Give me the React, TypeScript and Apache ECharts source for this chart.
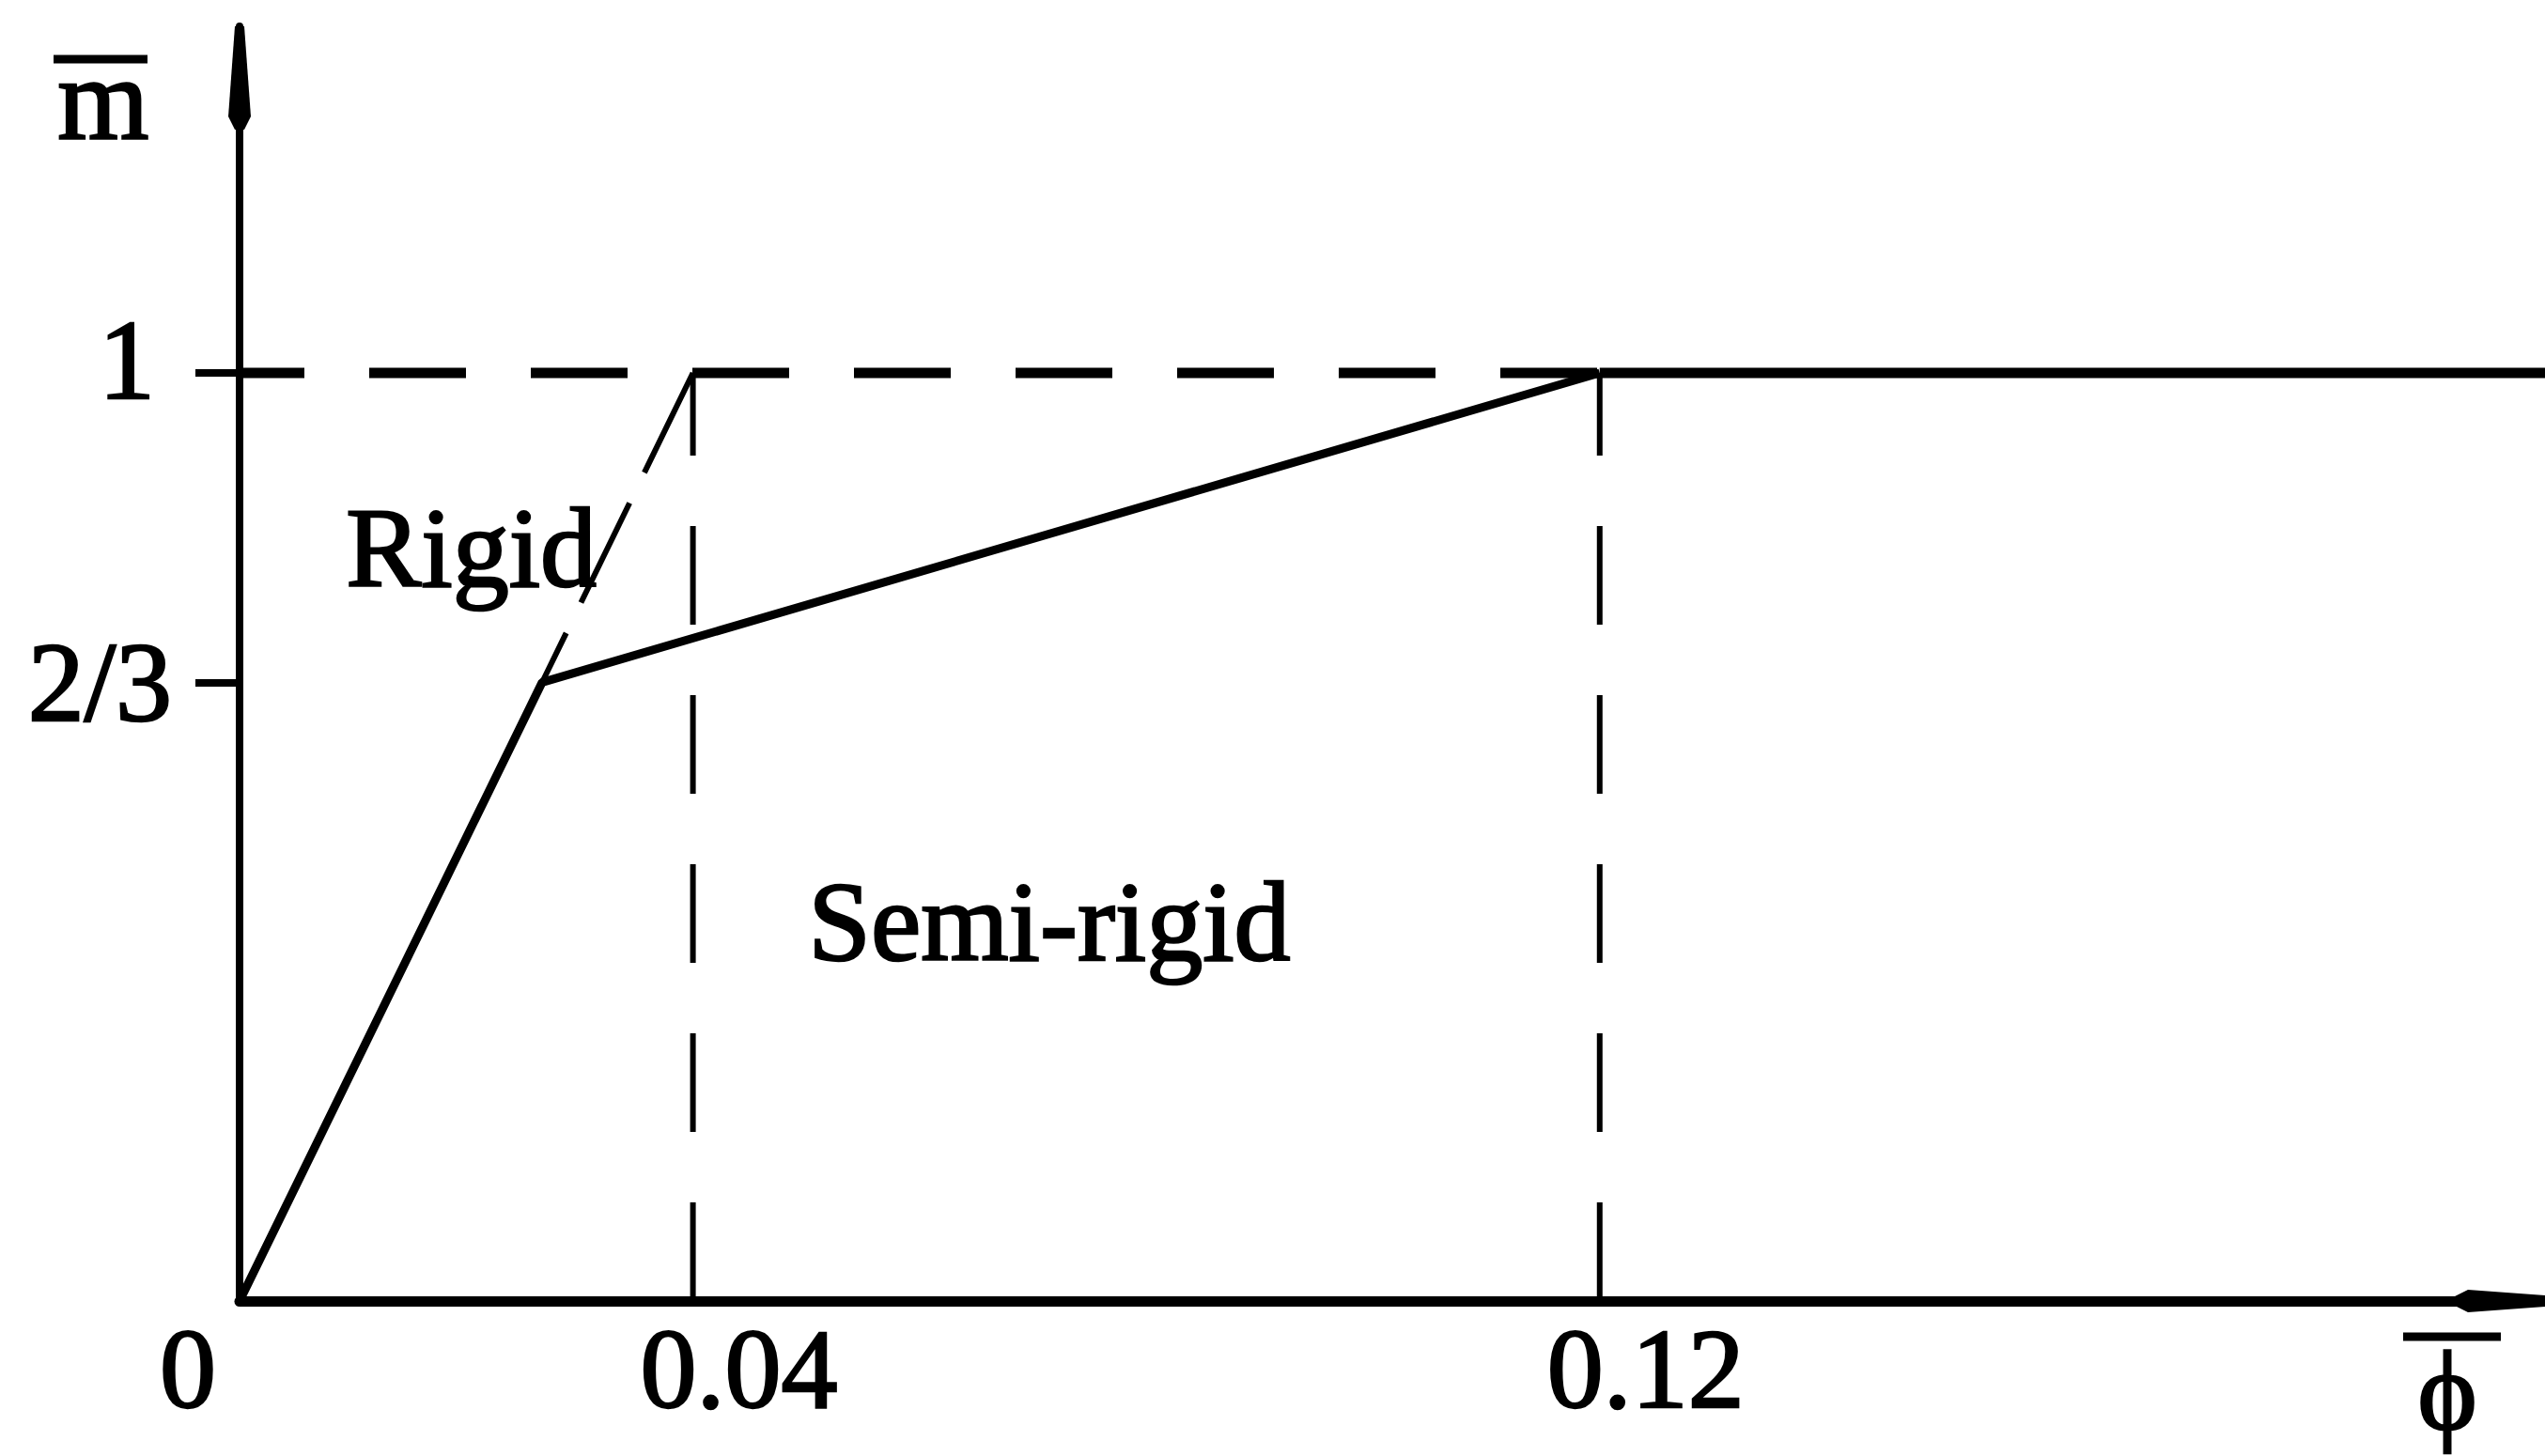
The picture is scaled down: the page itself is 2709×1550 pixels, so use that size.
import React, { useEffect, useRef } from "react";
import * as echarts from "echarts";

// Tick positions and labels
const xTickValues = [0, 0.04, 0.12];
const xTickLabels = ["0", "0.04", "0.12"];
const yTickValues = [2 / 3, 1];
const yTickLabels = ["2/3", "1"];

// Axis extents
const xMax = 0.2034;
const yMax = 1.3735;

// Moment–rotation curve (solid)
const curveX = [0, 0.0267, 0.12];
const curveY = [0, 0.6667, 1];
const plateauX = [0.12, 0.2034];
const plateauY = [1, 1];

// Rigid limit extension (dashed)
const rigidX = [0.04, 0.0267];
const rigidY = [1, 0.6667];

// Full-strength dashed line
const limitX = [0, 0.12];
const limitY = [1, 1];

// Boundaries between regions (dashed verticals)
const boundaryX = [0.04, 0.12];
const boundaryY = [0, 1];

const FONT = '"Liberation Serif", "Times New Roman", serif';
const ARROW = "path://M7,0L17,0L24,96L17,110L7,110L0,96Z";

const zip = (xs: number[], ys: number[]) => xs.map((x, i) => [x, ys[i]]);

export default function App() {
  const ref = useRef<HTMLDivElement>(null);
  useEffect(() => {
    if (!ref.current) return;
    const chart = echarts.init(ref.current, undefined, { renderer: "svg" });
    const base = {
      fontFamily: FONT,
      fontSize: 120,
      color: "#000",
      textBorderColor: "#000",
      textBorderWidth: 2.5,
    };
    const tstyle = (text: string, size: number) => ({
      text,
      fill: "#000",
      font: `${size}px ${FONT}`,
      stroke: "#000",
      lineWidth: 2.5,
    });
    const boundarySeries = boundaryX.map((bx) => ({
      type: "line",
      data: boundaryY.map((by) => [bx, by]),
      symbol: "none",
      silent: true,
      lineStyle: { color: "#000", width: 6, type: [105, 75] },
      z: 3,
    }));
    chart.setOption({
      animation: false,
      backgroundColor: "#fff",
      grid: { left: 255, right: 0, top: 28, bottom: 165, containLabel: false },
      xAxis: {
        type: "value",
        min: 0,
        max: xMax,
        splitLine: { show: false },
        axisTick: { show: false },
        axisLine: {
          show: true,
          onZero: false,
          symbol: ["none", ARROW],
          symbolSize: [24, 110],
          symbolOffset: [0, -41],
          lineStyle: { color: "#000", width: 11 },
        },
        axisLabel: {
          customValues: xTickValues,
          margin: 12,
          ...base,
          formatter: (v: number) => {
            const i = xTickValues.findIndex((t) => Math.abs(t - v) < 1e-9);
            const s = i >= 0 ? xTickLabels[i] : "";
            return v === 0 ? `{z|${s}}` : `{n|${s}}`;
          },
          rich: {
            z: { ...base, padding: [0, 110, 0, 0] },
            n: { ...base, padding: [0, 0, 0, 98] },
          },
        },
      },
      yAxis: {
        type: "value",
        min: 0,
        max: yMax,
        splitLine: { show: false },
        axisLine: {
          show: true,
          onZero: false,
          symbol: ["none", ARROW],
          symbolSize: [24, 110],
          symbolOffset: [0, -55],
          lineStyle: { color: "#000", width: 8 },
        },
        axisTick: {
          show: true,
          customValues: yTickValues,
          length: 47,
          inside: false,
          lineStyle: { color: "#000", width: 8 },
        },
        axisLabel: {
          customValues: yTickValues,
          margin: 72,
          ...base,
          formatter: (v: number) => {
            const i = yTickValues.findIndex((t) => Math.abs(t - v) < 1e-6);
            const s = i >= 0 ? yTickLabels[i] : "";
            return s === "1" ? `{o|${s}}` : `{t|${s}}`;
          },
          rich: {
            o: { ...base, padding: [0, 18, 28, 0] },
            t: { ...base },
          },
        },
      },
      series: [
        {
          type: "line",
          data: zip(curveX, curveY),
          symbol: "none",
          silent: true,
          lineStyle: { color: "#000", width: 9 },
          z: 4,
        },
        {
          type: "line",
          data: zip(plateauX, plateauY),
          symbol: "none",
          silent: true,
          lineStyle: { color: "#000", width: 11 },
          z: 4,
        },
        {
          type: "line",
          data: zip(rigidX, rigidY),
          symbol: "none",
          silent: true,
          lineStyle: { color: "#000", width: 6, type: [118, 36] },
          z: 3,
        },
        {
          type: "line",
          data: zip(limitX, limitY),
          symbol: "none",
          silent: true,
          lineStyle: { color: "#000", width: 11, type: [103, 69], dashOffset: 34 },
          z: 3,
        },
        ...boundarySeries,
      ],
      graphic: [
        { type: "text", left: 367, top: 522, style: tstyle("Rigid", 120) },
        { type: "text", left: 859, top: 920, style: tstyle("Semi-rigid", 120) },
        { type: "text", left: 60, top: 41, style: tstyle("m", 125) },
        {
          type: "line",
          shape: { x1: 57, y1: 63, x2: 157, y2: 63 },
          style: { stroke: "#000", lineWidth: 9 },
        },
        {
          type: "text",
          x: 2605,
          y: 1420,
          style: { ...tstyle("ϕ", 120), align: "center", verticalAlign: "top" },
        },
        {
          type: "line",
          shape: { x1: 2558, y1: 1423, x2: 2662, y2: 1423 },
          style: { stroke: "#000", lineWidth: 9 },
        },
      ],
    });
    return () => chart.dispose();
  }, []);
  return (
    <div
      ref={ref}
      style={{ position: "absolute", left: 0, top: 0, width: 2709, height: 1550, background: "#fff" }}
    />
  );
}
